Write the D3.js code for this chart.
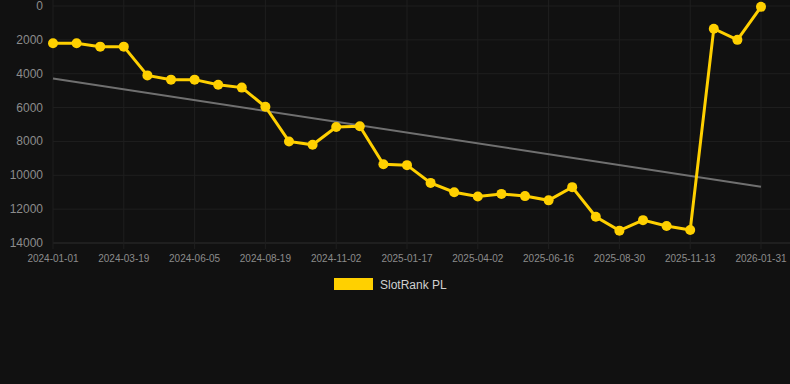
<!DOCTYPE html>
<html>
<head>
<meta charset="utf-8">
<script src="https://cdn.jsdelivr.net/npm/d3@7"></script>
<style>
  body { margin: 0; background: #111111; }
  svg { display: block; font-family: "Liberation Sans", Arial, sans-serif; }
</style>
</head>
<body>
<svg id="chart" width="790" height="384"></svg>
<script>
// dates of each point (every 3rd one is a tick label)
var dates = ["2024-01-01","2024-01-27","2024-02-22","2024-03-19","2024-04-14","2024-05-10",
  "2024-06-05","2024-06-30","2024-07-25","2024-08-19","2024-09-13","2024-10-08",
  "2024-11-02","2024-11-27","2024-12-23","2025-01-17","2025-02-11","2025-03-08",
  "2025-04-02","2025-04-27","2025-05-22","2025-06-16","2025-07-11","2025-08-05",
  "2025-08-30","2025-09-24","2025-10-19","2025-11-13","2025-12-09","2026-01-05","2026-01-31"];
var ranks = [2200,2200,2400,2400,4100,4350,4350,4650,4820,5950,8000,8200,7150,7100,
  9350,9400,10450,11000,11250,11100,11230,11480,10700,12450,13270,12650,13000,13230,
  1340,2000,50];
var yTicks = [0,2000,4000,6000,8000,10000,12000,14000];
var seriesName = "SlotRank PL";

var svg = d3.select("#chart");
var plotL = 53, plotR = 761, plotT = 6, plotB = 243;

var x = d3.scalePoint().domain(dates).range([plotL, plotR]);
var y = d3.scaleLinear().domain([0, 14000]).range([plotT, plotB]);

// grid
svg.append("g").selectAll("line").data(yTicks).enter().append("line")
  .attr("x1", plotL).attr("x2", 790)
  .attr("y1", function(d){ return y(d); }).attr("y2", function(d){ return y(d); })
  .attr("stroke", function(d){ return d == 14000 ? "#2e2e2e" : "#1f1f1f"; })
  .attr("stroke-width", 1);

var tickDates = dates.filter(function(d, i){ return i % 3 == 0; });
svg.append("g").selectAll("line").data(tickDates).enter().append("line")
  .attr("x1", function(d){ return x(d); }).attr("x2", function(d){ return x(d); })
  .attr("y1", 0).attr("y2", plotB + 6)
  .attr("stroke", "#1f1f1f").attr("stroke-width", 1);

// y labels
svg.append("g").selectAll("text").data(yTicks).enter().append("text")
  .attr("x", 43).attr("y", function(d){ return y(d) + 4; })
  .attr("text-anchor", "end")
  .attr("font-size", "12px")
  .attr("fill", "#8c8c8c")
  .text(function(d){ return d; });

// x labels
svg.append("g").selectAll("text").data(tickDates).enter().append("text")
  .attr("x", function(d){ return x(d); }).attr("y", 262)
  .attr("text-anchor", "middle")
  .attr("font-size", "10px")
  .attr("fill", "#8c8c8c")
  .text(function(d){ return d; });

// trend line (least squares over point index)
var n = ranks.length;
var mx = d3.mean(ranks, function(d, i){ return i; });
var my = d3.mean(ranks);
var sxy = 0, sxx = 0;
ranks.forEach(function(v, i){ sxy += (i - mx) * (v - my); sxx += (i - mx) * (i - mx); });
var slope = sxy / sxx;
var icpt = my - slope * mx;
svg.append("line")
  .attr("x1", x(dates[0])).attr("y1", y(icpt))
  .attr("x2", x(dates[n - 1])).attr("y2", y(icpt + slope * (n - 1)))
  .attr("stroke", "#707070").attr("stroke-width", 2);

// series
var line = d3.line()
  .x(function(d, i){ return x(dates[i]); })
  .y(function(d){ return y(d); });
svg.append("path").datum(ranks)
  .attr("d", line)
  .attr("fill", "none")
  .attr("stroke", "#ffd000")
  .attr("stroke-width", 3);

svg.append("g").selectAll("circle").data(ranks).enter().append("circle")
  .attr("cx", function(d, i){ return x(dates[i]); })
  .attr("cy", function(d){ return y(d); })
  .attr("r", 5)
  .attr("fill", "#ffd000");

// legend
svg.append("rect").attr("x", 334).attr("y", 278).attr("width", 39).attr("height", 12)
  .attr("fill", "#ffd000");
svg.append("text").attr("x", 380).attr("y", 288.5)
  .attr("font-size", "12px").attr("fill", "#d0d0d0")
  .text(seriesName);
</script>
</body>
</html>
